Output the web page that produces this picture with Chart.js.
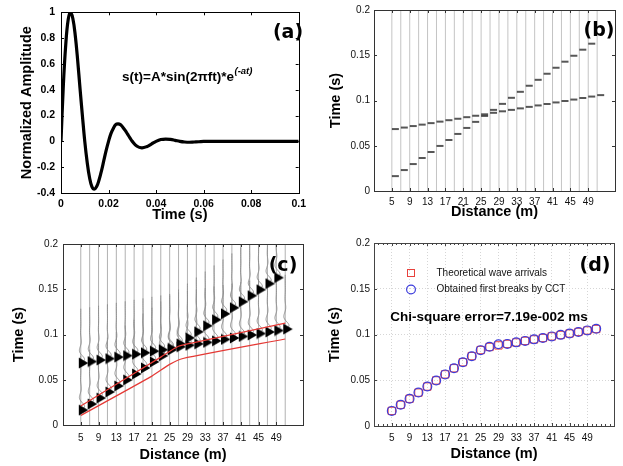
<!DOCTYPE html>
<html>
<head>
<meta charset="utf-8">
<script src="https://cdn.jsdelivr.net/npm/chart.js@4.4.1/dist/chart.umd.min.js"></script>
<style>
  html, body { margin: 0; padding: 0; background: #fff; }
  #fig { position: relative; width: 623px; height: 466px; }
  canvas { position: absolute; }
</style>
</head>
<body>
<div id="fig">
  <canvas id="ca" width="311" height="233" style="left:0;top:0;width:311px;height:233px"></canvas>
  <canvas id="cb" width="312" height="233" style="left:311px;top:0;width:312px;height:233px"></canvas>
  <canvas id="cc" width="311" height="233" style="left:0;top:233px;width:311px;height:233px"></canvas>
  <canvas id="cd" width="312" height="233" style="left:311px;top:233px;width:312px;height:233px"></canvas>
</div>
<script>
// Wavelet (a): time (s) and normalized amplitude
const waveT = [0, 0.001, 0.002, 0.003, 0.004, 0.005, 0.006, 0.007, 0.008, 0.009,
  0.010, 0.011, 0.012, 0.013, 0.014, 0.015, 0.016, 0.017, 0.018, 0.019,
  0.020, 0.021, 0.022, 0.023, 0.024, 0.025, 0.026, 0.027, 0.028, 0.029,
  0.030, 0.032, 0.034, 0.036, 0.038, 0.040, 0.042, 0.044, 0.046, 0.048,
  0.050, 0.052, 0.054, 0.056, 0.058, 0.060, 0.070, 0.080, 0.090, 0.100];
const waveA = [0, 0.44, 0.75, 0.94, 1.0, 0.95, 0.82, 0.63, 0.41, 0.2,
  0, -0.16, -0.28, -0.35, -0.37, -0.35, -0.3, -0.23, -0.15, -0.07,
  0, 0.06, 0.1, 0.13, 0.135, 0.13, 0.11, 0.085, 0.056, 0.027,
  0, -0.038, -0.05, -0.041, -0.021, 0, 0.014, 0.018, 0.015, 0.008,
  0, -0.005, -0.007, -0.005, -0.003, 0, 0, 0, 0, 0];

// Receiver positions (m) and picked arrivals (s)
const dist = [5, 7, 9, 11, 13, 15, 17, 19, 21, 23, 25, 27, 29, 31, 33, 35, 37, 39, 41, 43, 45, 47, 49, 51];
const directPick = [0.0165, 0.0232, 0.0298, 0.0365, 0.0431, 0.0498, 0.0564, 0.0631, 0.0697, 0.0764, 0.0830, 0.0897,
  0.0963, 0.1030, 0.1096, 0.1163, 0.1229, 0.1296, 0.1362, 0.1429, 0.1495, 0.1562, 0.1628];
const refrPick = [0.0685, 0.0701, 0.0718, 0.0734, 0.0750, 0.0767, 0.0783, 0.0799, 0.0816, 0.0832, 0.0848, 0.0864,
  0.0881, 0.0897, 0.0913, 0.0930, 0.0946, 0.0962, 0.0979, 0.0995, 0.1011, 0.1028, 0.1044, 0.1060];

// Red guide lines in (c)
const upperX = [5, 23, 27, 31, 51];
const upperY = [0.021, 0.075, 0.087, 0.0915, 0.1125];
const lowerX = [5, 21, 25, 28, 51];
const lowerY = [0.0105, 0.054, 0.067, 0.0735, 0.095];

// (d) theoretical vs obtained first breaks
const theoArr = [0.0165, 0.0232, 0.0298, 0.0365, 0.0431, 0.0498, 0.0564, 0.0631, 0.0697, 0.0764, 0.0830, 0.0864,
  0.0881, 0.0897, 0.0913, 0.0930, 0.0946, 0.0962, 0.0979, 0.0995, 0.1011, 0.1028, 0.1044, 0.1060];
const obtArr = [0.0165, 0.0233, 0.0298, 0.0366, 0.0431, 0.0497, 0.0564, 0.0631, 0.0697, 0.0763, 0.0829, 0.0866,
  0.0894, 0.0897, 0.0914, 0.0930, 0.0947, 0.0962, 0.0979, 0.0996, 0.1011, 0.1028, 0.1045, 0.1062];

// Tick labels
const aTimeTicks = [0, 0.02, 0.04, 0.06, 0.08, 0.1];
const ampTicks = [-0.4, -0.2, 0, 0.2, 0.4, 0.6, 0.8, 1];
const timeTicks = [0, 0.05, 0.1, 0.15, 0.2];
const distTicks = [5, 9, 13, 17, 21, 25, 29, 33, 37, 41, 45, 49];

const FONT = '"Liberation Sans", Arial, sans-serif';
Chart.defaults.font.family = FONT;

// Frame box + inward tick marks on all four sides
const framePlugin = {
  id: 'frame',
  afterDatasetsDraw(chart, args, opts) {
    const { ctx, chartArea: a, scales } = chart;
    const len = 3;
    ctx.save();
    ctx.strokeStyle = opts.color || '#000';
    ctx.lineWidth = 1;
    ctx.beginPath();
    scales.x.ticks.forEach((t) => {
      const px = Math.round(scales.x.getPixelForValue(t.value)) + 0.5;
      ctx.moveTo(px, a.bottom); ctx.lineTo(px, a.bottom - len);
      ctx.moveTo(px, a.top); ctx.lineTo(px, a.top + len);
    });
    scales.y.ticks.forEach((t) => {
      const py = Math.round(scales.y.getPixelForValue(t.value)) + 0.5;
      ctx.moveTo(a.left, py); ctx.lineTo(a.left + len, py);
      ctx.moveTo(a.right, py); ctx.lineTo(a.right - len, py);
    });
    if (opts.minor) {
      for (let v = Math.ceil(scales.x.min); v <= scales.x.max; v += opts.minor) {
        const px = Math.round(scales.x.getPixelForValue(v)) + 0.5;
        ctx.moveTo(px, a.bottom); ctx.lineTo(px, a.bottom - 2);
        ctx.moveTo(px, a.top); ctx.lineTo(px, a.top + 2);
      }
    }
    ctx.stroke();
    ctx.strokeRect(Math.round(a.left) + 0.5, Math.round(a.top) + 0.5,
      Math.round(a.right - a.left), Math.round(a.bottom - a.top));
    ctx.restore();
  },
};

function tagPlugin(text, x, y) {
  return {
    id: 'tag',
    afterDraw(chart) {
      const c = chart.ctx;
      c.save();
      c.font = 'bold 19px "DejaVu Sans", sans-serif';
      c.fillStyle = '#000';
      c.textAlign = 'center';
      c.textBaseline = 'middle';
      c.fillText(text, x, y);
      c.restore();
    },
  };
}

// Build a fixed-size linear scale
function makeScale(min, max, tickVals, fitSize, isX, tickFont, tickPad, title, gridOpts) {
  return {
    type: 'linear',
    min: min,
    max: max,
    afterBuildTicks: (s) => { s.ticks = tickVals.map((v) => ({ value: v })); },
    afterFit: (s) => { if (isX) s.height = fitSize; else s.width = fitSize; },
    grid: gridOpts || { display: false, drawTicks: false },
    border: { display: false, dash: [1, 2] },
    ticks: { color: '#111', padding: tickPad, font: tickFont, maxRotation: 0, autoSkip: false,
      callback: (v) => String(v) },
    title: { display: true, text: title, color: '#000', padding: 0, font: { size: 14.5, weight: 'bold' } },
  };
}

function baseOptions(pad) {
  return {
    responsive: false,
    animation: false,
    devicePixelRatio: 1,
    layout: { padding: pad },
    plugins: { legend: { display: false }, tooltip: { enabled: false } },
  };
}

// Custom marker images
function makeTri() {
  const c = document.createElement('canvas');
  c.width = 22; c.height = 12;
  const g = c.getContext('2d');
  g.fillStyle = '#000';
  g.beginPath(); g.moveTo(9, 0.5); g.lineTo(18.5, 6); g.lineTo(9, 11.5); g.closePath(); g.fill();
  return c;
}
function makeDash() {
  const c = document.createElement('canvas');
  c.width = 16; c.height = 4;
  const g = c.getContext('2d');
  g.fillStyle = '#111';
  g.fillRect(8, 1.3, 7, 1.4);
  return c;
}
const triImg = makeTri();
const dashImg = makeDash();

// ---------- (a) wavelet ----------
const optA = baseOptions({ left: 18, top: 9, right: 4, bottom: 9 });
optA.plugins.frame = { color: '#000' };
optA.scales = {
  x: makeScale(0, 0.1, aTimeTicks, 31, true, { size: 10.5, weight: 'bold' }, 5, 'Time (s)'),
  y: makeScale(-0.4, 1, ampTicks, 43, false, { size: 10.5, weight: 'bold' }, 6, 'Normalized Amplitude'),
};
optA.scales.x.ticks.color = '#000';
optA.scales.y.ticks.color = '#000';

new Chart(document.getElementById('ca'), {
  type: 'scatter',
  data: {
    datasets: [{
      data: waveT.map((t, i) => ({ x: t, y: waveA[i] })),
      showLine: true, borderColor: '#000', borderWidth: 3.2, pointRadius: 0, tension: 0.4,
    }],
  },
  options: optA,
  plugins: [framePlugin, tagPlugin('(a)', 288, 33), {
    id: 'formula',
    afterDraw(chart) {
      const c = chart.ctx;
      c.save();
      c.fillStyle = '#000';
      c.textBaseline = 'alphabetic';
      c.font = 'bold 13.5px ' + FONT;
      const main = 's(t)=A*sin(2\u03c0ft)*e';
      c.fillText(main, 122, 81);
      const w = c.measureText(main).width;
      c.font = 'italic bold 9.5px ' + FONT;
      c.fillText('(-at)', 122 + w + 0.5, 74);
      c.restore();
    },
  }],
});

// ---------- (b) picks on traces ----------
const optB = baseOptions({ left: 16, top: 9, right: 8, bottom: 12 });
optB.plugins.frame = { color: '#333' };
optB.scales = {
  x: makeScale(1, 55, distTicks, 30, true, { size: 10 }, 5, 'Distance (m)'),
  y: makeScale(0, 0.2, timeTicks, 47, false, { size: 10 }, 4, 'Time (s)'),
};
const traceSetsB = dist.map((d) => ({
  data: [{ x: d, y: 0 }, { x: d, y: 0.2 }],
  showLine: true, borderColor: '#c4c4c4', borderWidth: 1, pointRadius: 0, order: 2,
}));
new Chart(document.getElementById('cb'), {
  type: 'scatter',
  data: {
    datasets: traceSetsB.concat([
      { data: directPick.map((p, i) => ({ x: dist[i], y: p })), pointStyle: dashImg, pointRadius: 4, order: 0 },
      { data: refrPick.map((p, i) => ({ x: dist[i], y: p })), pointStyle: dashImg, pointRadius: 4, order: 0 },
    ]),
  },
  options: optB,
  plugins: [framePlugin, tagPlugin('(b)', 288, 31)],
});

// ---------- (c) wiggle record with picks ----------
const gain = 0.85;
const optC = baseOptions({ left: 10, top: 9, right: 8, bottom: 2 });
optC.plugins.frame = { color: '#333' };
optC.scales = {
  x: makeScale(1, 55, distTicks, 39, true, { size: 10 }, 7, 'Distance (m)'),
  y: makeScale(0, 0.2, timeTicks, 53, false, { size: 10 }, 5, 'Time (s)'),
};
const setsC = [];
dist.forEach((d, i) => {
  setsC.push({
    data: [{ x: d, y: 0 }, { x: d, y: 0.2 }],
    showLine: true, borderColor: '#a8a8a8', borderWidth: 0.9, pointRadius: 0, order: 3,
  });
  const picks = [refrPick[i]];
  if (i < directPick.length) picks.push(directPick[i]);
  picks.forEach((p) => {
    setsC.push({
      data: waveT.slice(0, 46).map((t, j) => ({ x: d + gain * waveA[j], y: p + t })),
      showLine: true, borderColor: '#8c8c8c', borderWidth: 0.9, pointRadius: 0, tension: 0.3, order: 2,
    });
  });
});
setsC.push(
  { data: directPick.map((p, i) => ({ x: dist[i], y: p })), pointStyle: triImg, pointRadius: 5, order: 1 },
  { data: refrPick.map((p, i) => ({ x: dist[i], y: p })), pointStyle: triImg, pointRadius: 5, order: 1 },
  { data: upperX.map((x, i) => ({ x: x, y: upperY[i] })), showLine: true, borderColor: '#e53935',
    borderWidth: 1.2, pointRadius: 0, tension: 0.2, order: 0 },
  { data: lowerX.map((x, i) => ({ x: x, y: lowerY[i] })), showLine: true, borderColor: '#e53935',
    borderWidth: 1.2, pointRadius: 0, tension: 0.2, order: 0 }
);
new Chart(document.getElementById('cc'), {
  type: 'scatter',
  data: { datasets: setsC },
  options: optC,
  plugins: [framePlugin, tagPlugin('(c)', 283, 33)],
});

// ---------- (d) comparison ----------
const gridD = { display: true, color: '#d6d6d6', lineWidth: 1, drawTicks: false };
const optD = baseOptions({ left: 15, top: 10, right: 9, bottom: 3 });
optD.plugins.frame = { color: '#444', minor: 1 };
optD.scales = {
  x: makeScale(1, 55, distTicks, 37, true, { size: 10 }, 6, 'Distance (m)', gridD),
  y: makeScale(0, 0.2, timeTicks, 48, false, { size: 10 }, 4, 'Time (s)', gridD),
};
new Chart(document.getElementById('cd'), {
  type: 'scatter',
  data: {
    datasets: [
      { data: obtArr.map((v, i) => ({ x: dist[i], y: v })), pointStyle: 'circle', pointRadius: 4.4,
        borderColor: '#3c3cdc', backgroundColor: 'rgba(0,0,0,0)', pointBorderWidth: 1.2, order: 0 },
      { data: theoArr.map((v, i) => ({ x: dist[i], y: v })), pointStyle: 'rect', pointRadius: 5.2,
        borderColor: '#e8413c', backgroundColor: 'rgba(0,0,0,0)', pointBorderWidth: 1, order: 1 },
    ],
  },
  options: optD,
  plugins: [framePlugin, tagPlugin('(d)', 284, 33), {
    id: 'legendD',
    afterDraw(chart) {
      const c = chart.ctx;
      c.save();
      c.lineWidth = 1;
      c.strokeStyle = '#e8413c';
      c.strokeRect(96.5, 36.5, 7, 7);
      c.lineWidth = 1.2;
      c.strokeStyle = '#3c3cdc';
      c.beginPath(); c.arc(100, 56.5, 4.4, 0, Math.PI * 2); c.stroke();
      c.fillStyle = '#111';
      c.font = '10px ' + FONT;
      c.textBaseline = 'middle';
      c.fillText('Theoretical wave arrivals', 125.5, 40);
      c.fillText('Obtained first breaks by CCT', 125.5, 56.5);
      c.font = 'bold 13.5px ' + FONT;
      c.textAlign = 'center';
      c.fillStyle = '#000';
      c.fillText('Chi-square error=7.19e-002 ms', 178, 84);
      c.restore();
    },
  }],
});
</script>
</body>
</html>
